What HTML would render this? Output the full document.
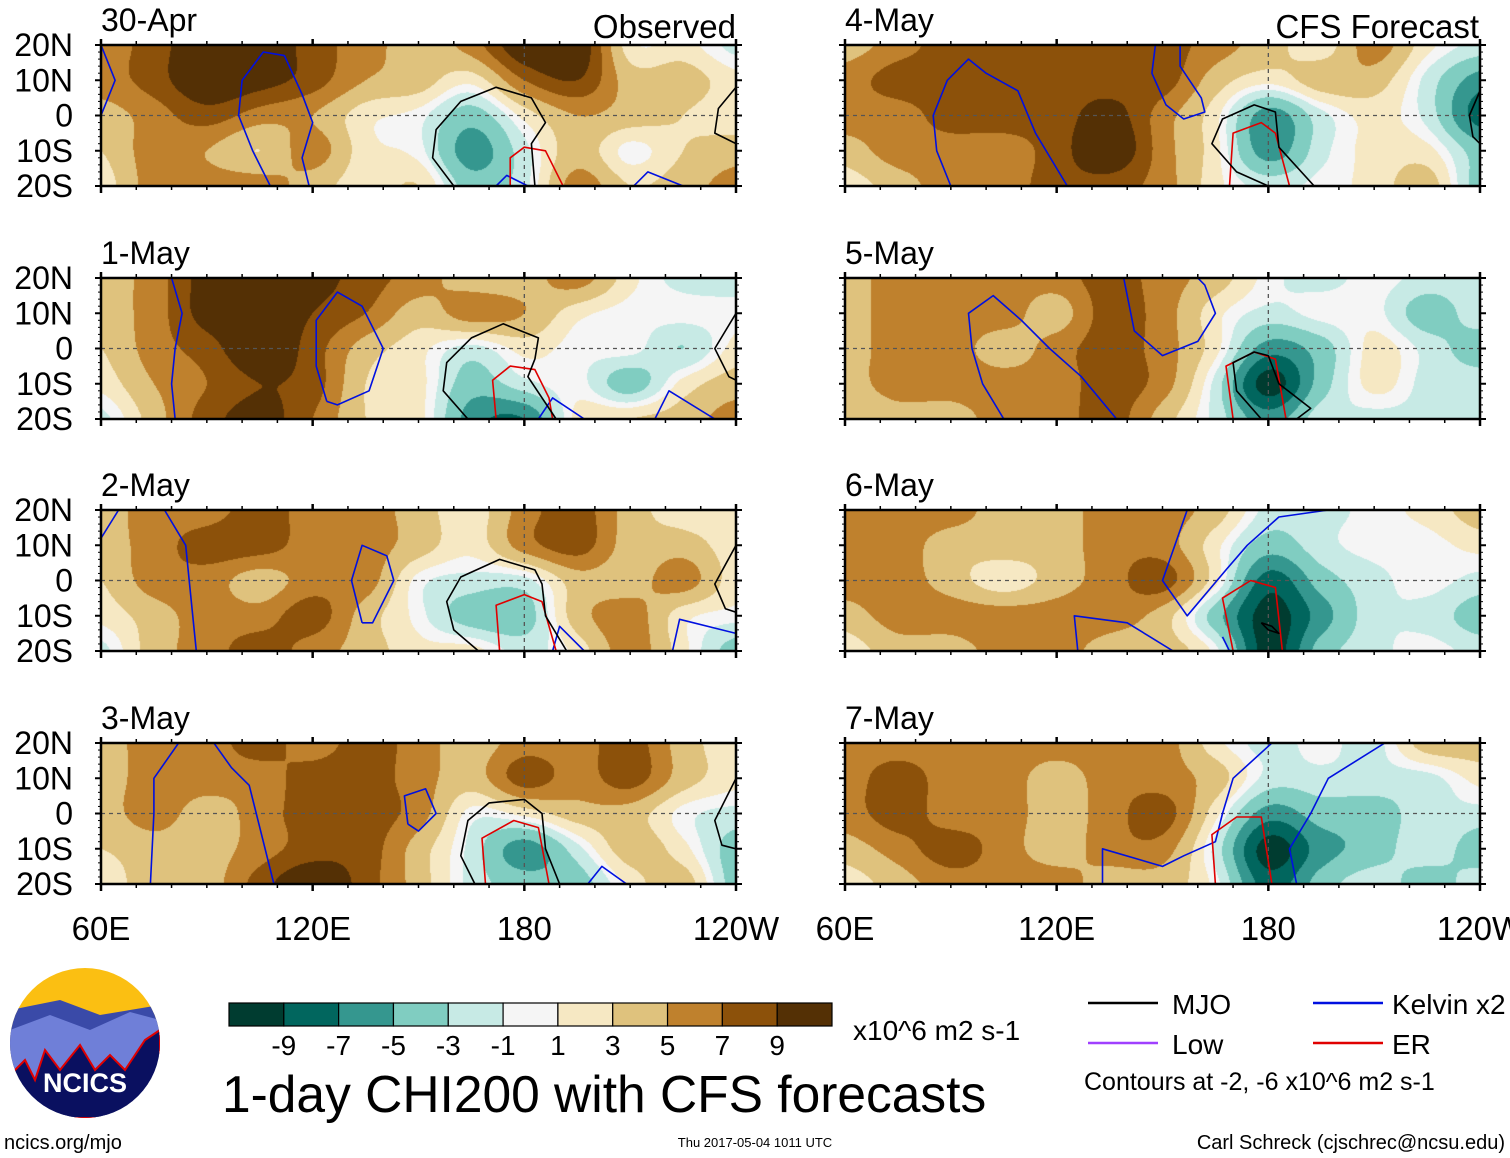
<!DOCTYPE html>
<html><head><meta charset="utf-8">
<style>
html,body{margin:0;padding:0;background:#fff;}
#wrap{position:relative;width:1510px;height:1158px;overflow:hidden;font-family:"Liberation Sans",sans-serif;}
canvas,svg{position:absolute;left:0;top:0;}
</style></head>
<body>
<div id="wrap">
<canvas id="cv" width="1510" height="1158"></canvas>
<svg id="sv" width="1510" height="1158" xmlns="http://www.w3.org/2000/svg"></svg>
</div>
<script>
// ---- data ----
const panelTitles = ["30-Apr","1-May","2-May","3-May","4-May","5-May","6-May","7-May"];
const lonNodes = [60,75,90,105,120,135,150,165,180,195,210,225,240];
const latNodes = [20,10,0,-10,-20];
const lonTickLabels = ["60E","120E","180","120W"];
const latTickLabels = ["20N","10N","0","10S","20S"];
const levelLabels = ["-9","-7","-5","-3","-1","1","3","5","7","9"];
const levelColors = ["#003c30","#01665e","#35978f","#80cdc1","#c7eae5","#f5f5f5","#f6e8c3","#dfc27d","#bf812d","#8c510a","#543005"];
const chiP1 = [[5,7,10,10,7,5,3,5,10,10,1,1,-1],[5,7,10,9,7,4,3,1,6,8,3,3,1],[3,5,7,5,4,1,0,-3,1,4,3,2,1],[2,5,4,2,5,1,0,-5,-1,3,0,2,3],[1,5,5,5,3,1,2,-3,-1,5,2,3,5]];
const chiP2 = [[3,5,9,10,9,7,5,3,3,5,1,-1,-1],[3,5,9,10,8,6,3,5,4,1,0,0,0],[2,5,7,10,7,3,1,-1,1,0,0,-2,1],[1,4,6,8,7,2,1,-3,-1,0,-3,1,3],[-1,3,7,9,6,2,1,-5,-6,1,2,3,5]];
const chiP3 = [[3,5,5,7,5,5,3,1,5,7,3,1,1],[3,5,7,7,5,5,3,1,5,7,3,3,1],[2,5,5,3,5,5,0,-1,-1,3,3,5,1],[1,3,5,5,7,3,0,-3,-3,3,5,1,0],[-1,3,5,7,5,3,1,1,-1,1,5,1,-3]];
const chiP4 = [[3,5,5,7,5,7,5,3,5,5,7,3,1],[3,5,5,5,7,7,5,3,7,5,7,3,1],[3,5,3,5,7,7,5,0,1,3,3,0,-1],[2,3,3,5,7,7,3,-1,-5,-1,3,1,-3],[1,3,3,7,10,7,3,-1,-3,-3,1,3,-3]];
const chiP5 = [[3,5,7,7,7,7,7,5,3,1,5,1,-1],[5,7,7,7,7,7,7,3,1,3,3,-1,-5],[5,5,7,7,7,9,5,1,-5,-1,1,-1,-7],[3,5,5,5,7,10,5,1,-5,-1,1,1,-3],[1,3,5,5,7,7,5,1,-1,0,1,3,-3]];
const chiP6 = [[3,5,5,5,5,7,5,3,0,-1,0,-1,-1],[3,5,5,5,3,7,5,1,-1,0,0,-3,-1],[3,5,5,3,5,7,5,1,-5,-3,1,-1,-3],[3,5,5,5,5,7,5,-1,-9,-3,1,-1,-1],[2,3,3,5,5,7,3,-1,-5,-1,-1,-1,-1]];
const chiP7 = [[5,5,5,3,3,5,5,3,-1,-1,0,1,3],[5,5,3,3,3,5,5,1,-3,-1,0,0,1],[5,5,3,1,3,5,7,1,-7,-3,-1,0,-1],[3,5,5,5,5,5,3,-3,-9,-5,-1,-1,-3],[1,3,3,5,5,3,3,0,-9,-3,-1,0,-1]];
const chiP8 = [[5,5,5,5,5,5,5,1,-1,0,-1,3,3],[5,7,5,5,3,5,5,3,-1,-1,-1,-1,1],[5,7,5,5,3,5,7,1,-5,-3,-3,-1,-1],[3,5,7,5,3,5,5,-1,-9,-5,-3,-1,-3],[1,3,5,5,5,3,3,0,-7,-3,-1,-3,-1]];
const mjoLines = [
 [[[160,-20],[154,-12],[155,-4],[162,4],[172,8],[182,5],[186,-2],[182,-8],[183,-20]],[[240,8],[235,2],[234,-5],[240,-8]]],
 [[[164,-20],[157,-12],[158,-4],[165,3],[174,7],[184,3],[183,-3],[181,-8],[189,-20]],[[240,10],[234,0],[238,-8],[240,-9]]],
 [[[167,-20],[160,-14],[158,-6],[162,1],[173,6],[183,3],[185,-1],[186,-10],[192,-20]],[[240,10],[234,-1],[237,-8],[240,-9]]],
 [[[166,-20],[162,-12],[164,-2],[170,3],[180,4],[185,0],[186,-10],[190,-20]],[[240,10],[234,-2],[236,-9],[240,-10]]],
 [[[180,-20],[171,-16],[164,-8],[167,-1],[176,3],[182,1],[183,-9],[193,-20]],[[240,7],[237,0],[238,-6],[240,-8]]],
 [[[178,-20],[171,-12],[170,-4],[176,-1],[180,-2],[183,-10],[192,-17],[188,-20]]],
 [[[178,-12],[181,-13],[183,-15],[180,-14],[178,-12]]],
 []
];
const erLines = [
 [[[176,-20],[176,-12],[180,-9],[186,-10],[191,-20]]],
 [[[172,-20],[171,-9],[176,-5],[183,-6],[187,-14],[188,-20]]],
 [[[173,-20],[172,-7],[180,-4],[185,-6],[189,-20]]],
 [[[169,-20],[168,-7],[177,-2],[184,-4],[187,-20]]],
 [[[169,-20],[170,-5],[178,-2],[182,-5],[186,-20]]],
 [[[170,-20],[168,-5],[176,-1],[182,-3],[185,-20]]],
 [[[170,-20],[167,-5],[175,0],[182,-2],[184,-20]]],
 [[[165,-20],[164,-6],[171,-1],[178,-1],[181,-20]]]
];
const kelvinLines = [
 [[[60,20],[64,10],[60,0]],[[108,-20],[103,-10],[99,0],[100,10],[106,18],[112,17],[117,6],[120,-2],[117,-12],[119,-20]],[[172,-20],[175,-17],[181,-20]],[[211,-20],[215,-16],[225,-20]]],
 [[[80,20],[83,10],[81,0],[80,-10],[81,-20]],[[124,-15],[121,-5],[121,8],[127,16],[134,12],[140,0],[136,-12],[127,-16],[124,-15]],[[184,-20],[188,-14],[197,-20]],[[217,-20],[221,-12],[234,-20]]],
 [[[60,12],[65,20]],[[78,20],[84,10],[85,0],[87,-20]],[[134,-12],[131,0],[134,10],[141,7],[143,0],[137,-12],[134,-12]],[[188,-20],[190,-13],[197,-20]],[[222,-20],[224,-11],[240,-15]]],
 [[[82,20],[75,10],[75,0],[74,-20]],[[92,20],[97,13],[102,8],[109,-20]],[[147,-3],[146,5],[152,7],[155,0],[150,-5],[147,-3]],[[198,-20],[202,-15],[209,-20]]],
 [[[90,-20],[86,-10],[85,0],[89,10],[95,16],[100,12],[109,7],[114,-5],[123,-20]],[[148,20],[147,12],[151,3],[156,-1],[162,1],[161,5],[155,14],[155,20]]],
 [[[105,-20],[99,-10],[96,0],[95,10],[102,15],[110,8],[118,0],[127,-8],[137,-20]],[[139,20],[142,5],[150,-2],[160,2],[165,10],[162,18],[160,20]]],
 [[[157,20],[150,0],[157,-10],[168,3],[174,10],[183,18],[197,20]],[[126,-20],[125,-10],[140,-12],[153,-20]],[[167,-16],[169,-20]]],
 [[[181,20],[170,10],[167,0],[165,-8],[156,-12],[150,-15],[133,-10],[133,-20]],[[213,20],[197,10],[192,0],[186,-10],[188,-20]]]
];
const allChi = [chiP1,chiP2,chiP3,chiP4,chiP5,chiP6,chiP7,chiP8];

// ---- layout ----
const colX = [101,845], PW = 635, PH = 141, rowY = [45,278,510,743];
function panelBox(i){return {x: colX[Math.floor(i/4)], y: rowY[i%4]};}
function xScale(b,lon){return b.x + (lon-60)/180*PW;}
function yScale(b,lat){return b.y + (20-lat)/40*PH;}
function hex(c){return [parseInt(c.substr(1,2),16),parseInt(c.substr(3,2),16),parseInt(c.substr(5,2),16)];}
const rgbLevels = levelColors.map(hex);
function levelIndex(v){
  const w = v + Math.max(-1, Math.min(1, v));
  let idx = Math.floor((w+11)/2); if(idx<0) idx=0; if(idx>10) idx=10;
  return idx;
}
function cr(p0,p1,p2,p3,t){return 0.5*((2*p1)+(-p0+p2)*t+(2*p0-5*p1+4*p2-p3)*t*t+(-p0+3*p1-3*p2+p3)*t*t*t);}
function getv(g,j,i){j=Math.max(0,Math.min(4,j));i=Math.max(0,Math.min(12,i));return g[j][i];}
function sample(g,lon,lat){
  const fx=(lon-60)/15, fy=(20-lat)/10;
  const i=Math.min(Math.floor(fx),11), j=Math.min(Math.floor(fy),3);
  const tx=fx-i, ty=fy-j;
  const rows=[];
  for(let dj=-1;dj<=2;dj++){
    rows.push(cr(getv(g,j+dj,i-1),getv(g,j+dj,i),getv(g,j+dj,i+1),getv(g,j+dj,i+2),tx));
  }
  return cr(rows[0],rows[1],rows[2],rows[3],ty);
}
// ---- shading ----
const ctx = document.getElementById('cv').getContext('2d');
allChi.forEach((g,p)=>{
  const b=panelBox(p);
  const img=ctx.createImageData(PW,PH);
  for(let py=0;py<PH;py++){
    for(let px=0;px<PW;px++){
      const lon=60+(px+0.5)/PW*180, lat=20-(py+0.5)/PH*40;
      const c=rgbLevels[levelIndex(sample(g,lon,lat))];
      const o=(py*PW+px)*4;
      img.data[o]=c[0];img.data[o+1]=c[1];img.data[o+2]=c[2];img.data[o+3]=255;
    }
  }
  ctx.putImageData(img,b.x,b.y);
});
// ---- svg overlay ----
const NS="http://www.w3.org/2000/svg";
const sv=document.getElementById('sv');
function mk(tag,attrs,parent){const e=document.createElementNS(NS,tag);for(const k in attrs)e.setAttribute(k,attrs[k]);(parent||sv).appendChild(e);return e;}
function txt(s,x,y,size,anchor,parent,name){const t=mk('text',{x:x,y:y,'font-size':size,'text-anchor':anchor||'start','font-family':'Liberation Sans, sans-serif',fill:'#000'},parent);t.textContent=s;


return t;}
function linePath(b,pts){return pts.map((q,k)=>(k?'L':'M')+xScale(b,q[0]).toFixed(1)+','+yScale(b,q[1]).toFixed(1)).join(' ');}

allChi.forEach((g,p)=>{
  const b=panelBox(p);
  const grp=mk('g',{});
  
  
  const clipId='c'+p;
  const cp=mk('clipPath',{id:clipId},grp); mk('rect',{x:b.x,y:b.y,width:PW,height:PH},cp);
  const inner=mk('g',{'clip-path':'url(#'+clipId+')'},grp);
  const eq=mk('line',{x1:b.x,x2:b.x+PW,y1:yScale(b,0),y2:yScale(b,0),stroke:'#555','stroke-width':1.3,'stroke-dasharray':'4,4'},inner);
  
  
  const dl=mk('line',{x1:xScale(b,180),x2:xScale(b,180),y1:b.y,y2:b.y+PH,stroke:'#555','stroke-width':1.3,'stroke-dasharray':'4,4'},inner);
  
  
  kelvinLines[p].forEach(l=>{const e=mk('path',{d:linePath(b,l),fill:'none',stroke:'#0010e0','stroke-width':1.6,'stroke-linejoin':'round'},inner);
    
    });
  erLines[p].forEach(l=>{const e=mk('path',{d:linePath(b,l),fill:'none',stroke:'#e00000','stroke-width':1.6,'stroke-linejoin':'round'},inner);
    
    });
  mjoLines[p].forEach(l=>{const e=mk('path',{d:linePath(b,l),fill:'none',stroke:'#000','stroke-width':1.6,'stroke-linejoin':'round'},inner);
    
    });
  const fr=mk('rect',{x:b.x,y:b.y,width:PW,height:PH,fill:'none',stroke:'#000','stroke-width':2.5},grp);
  
  
  for(let lon=60;lon<=240;lon+=10){
    const x=xScale(b,lon), major=(lon%60===0);
    mk('line',{x1:x,x2:x,y1:b.y-(major?6:4),y2:b.y,stroke:'#000','stroke-width':major?2.5:1.5},grp);
    mk('line',{x1:x,x2:x,y1:b.y+PH,y2:b.y+PH+(major?7:4),stroke:'#000','stroke-width':major?2.5:1.5},grp);
  }
  for(let lat=-20;lat<=20;lat+=2){
    const y=yScale(b,lat), major=(lat%10===0);
    mk('line',{x1:b.x-(major?6:3),x2:b.x,y1:y,y2:y,stroke:'#000','stroke-width':major?2:1},grp);
    mk('line',{x1:b.x+PW,x2:b.x+PW+(major?6:3),y1:y,y2:y,stroke:'#000','stroke-width':major?2:1},grp);
  }
  txt(panelTitles[p],b.x,b.y-14,32,'start',grp,'panel-title');
  if(p<4){ latNodes.forEach((lat,k)=>txt(latTickLabels[k],73,yScale(b,lat)+11,32,'end',grp,'lat-tick-label')); }
});
txt("Observed",736,38,33,'end',null,'observed-label');
txt("CFS Forecast",1479,38,33,'end',null,'forecast-label');
[0,1].forEach(c=>{const b=panelBox(c*4+3);
  [60,120,180,240].forEach((lon,k)=>txt(lonTickLabels[k],xScale(b,lon),940,33,'middle',null,'lon-tick-label'));});

// colorbar
const cbX=229, cbW=603, cbY=1003, cbH=23, nb=levelColors.length;
const cb=mk('g',{});  
levelColors.forEach((c,k)=>{const r=mk('rect',{x:cbX+k*cbW/nb,y:cbY,width:cbW/nb,height:cbH,fill:c,stroke:'#000','stroke-width':1.2},cb);
   });
levelLabels.forEach((s,k)=>txt(s,cbX+(k+1)*cbW/nb,1055,28,'middle',cb,'colorbar-label'));
txt("x10^6 m2 s-1",853,1040,28,'start',null,'units-label');
txt("1-day CHI200 with CFS forecasts",222,1112,51.5,'start',null,'main-title');
// legend
const lg=mk('g',{});  
[[1088,1003,'#000','MJO',1172],[1313,1003,'#0010e0','Kelvin x2',1392],[1088,1043,'#a040ff','Low',1172],[1313,1043,'#e00000','ER',1392]].forEach(e=>{
  mk('line',{x1:e[0],x2:e[0]+70,y1:e[1],y2:e[1],stroke:e[2],'stroke-width':2.5},lg);
  txt(e[3],e[4],e[1]+11,28,'start',lg,'legend-entry');
});
txt("Contours at -2, -6 x10^6 m2 s-1",1084,1090,25,'start',null,'contour-note');
txt("ncics.org/mjo",4,1149,20,'start',null,'website-label');
txt("Thu 2017-05-04 1011 UTC",755,1147,13,'middle',null,'timestamp');
txt("Carl Schreck (cjschrec@ncsu.edu)",1505,1149,20,'end',null,'author-label');
// logo
const lo=mk('g',{});  
const lc=mk('clipPath',{id:'lc'},lo); mk('ellipse',{cx:85,cy:1043,rx:75,ry:75},lc);
const li=mk('g',{'clip-path':'url(#lc)'},lo);
mk('rect',{x:10,y:968,width:150,height:150,fill:'#fbbf12'},li);
mk('path',{d:'M10,1010 L60,1000 L100,1015 L160,1005 L160,1118 L10,1118 Z',fill:'#3a4aa8'},li);
mk('path',{d:'M10,1030 L50,1015 L90,1030 L130,1012 L160,1020 L160,1118 L10,1118Z',fill:'#6f7fd8'},li);
mk('path',{d:'M10,1075 L25,1060 L35,1080 L45,1050 L60,1070 L80,1045 L95,1070 L110,1055 L125,1070 L145,1040 L160,1030 L160,1118 L10,1118Z',fill:'#0a1060',stroke:'#e00000','stroke-width':2},li);
const nt=txt("NCICS",85,1092,27,'middle',lo,'logo-text'); nt.setAttribute('fill','#fff'); nt.setAttribute('font-weight','bold');
</script>
</body></html>
